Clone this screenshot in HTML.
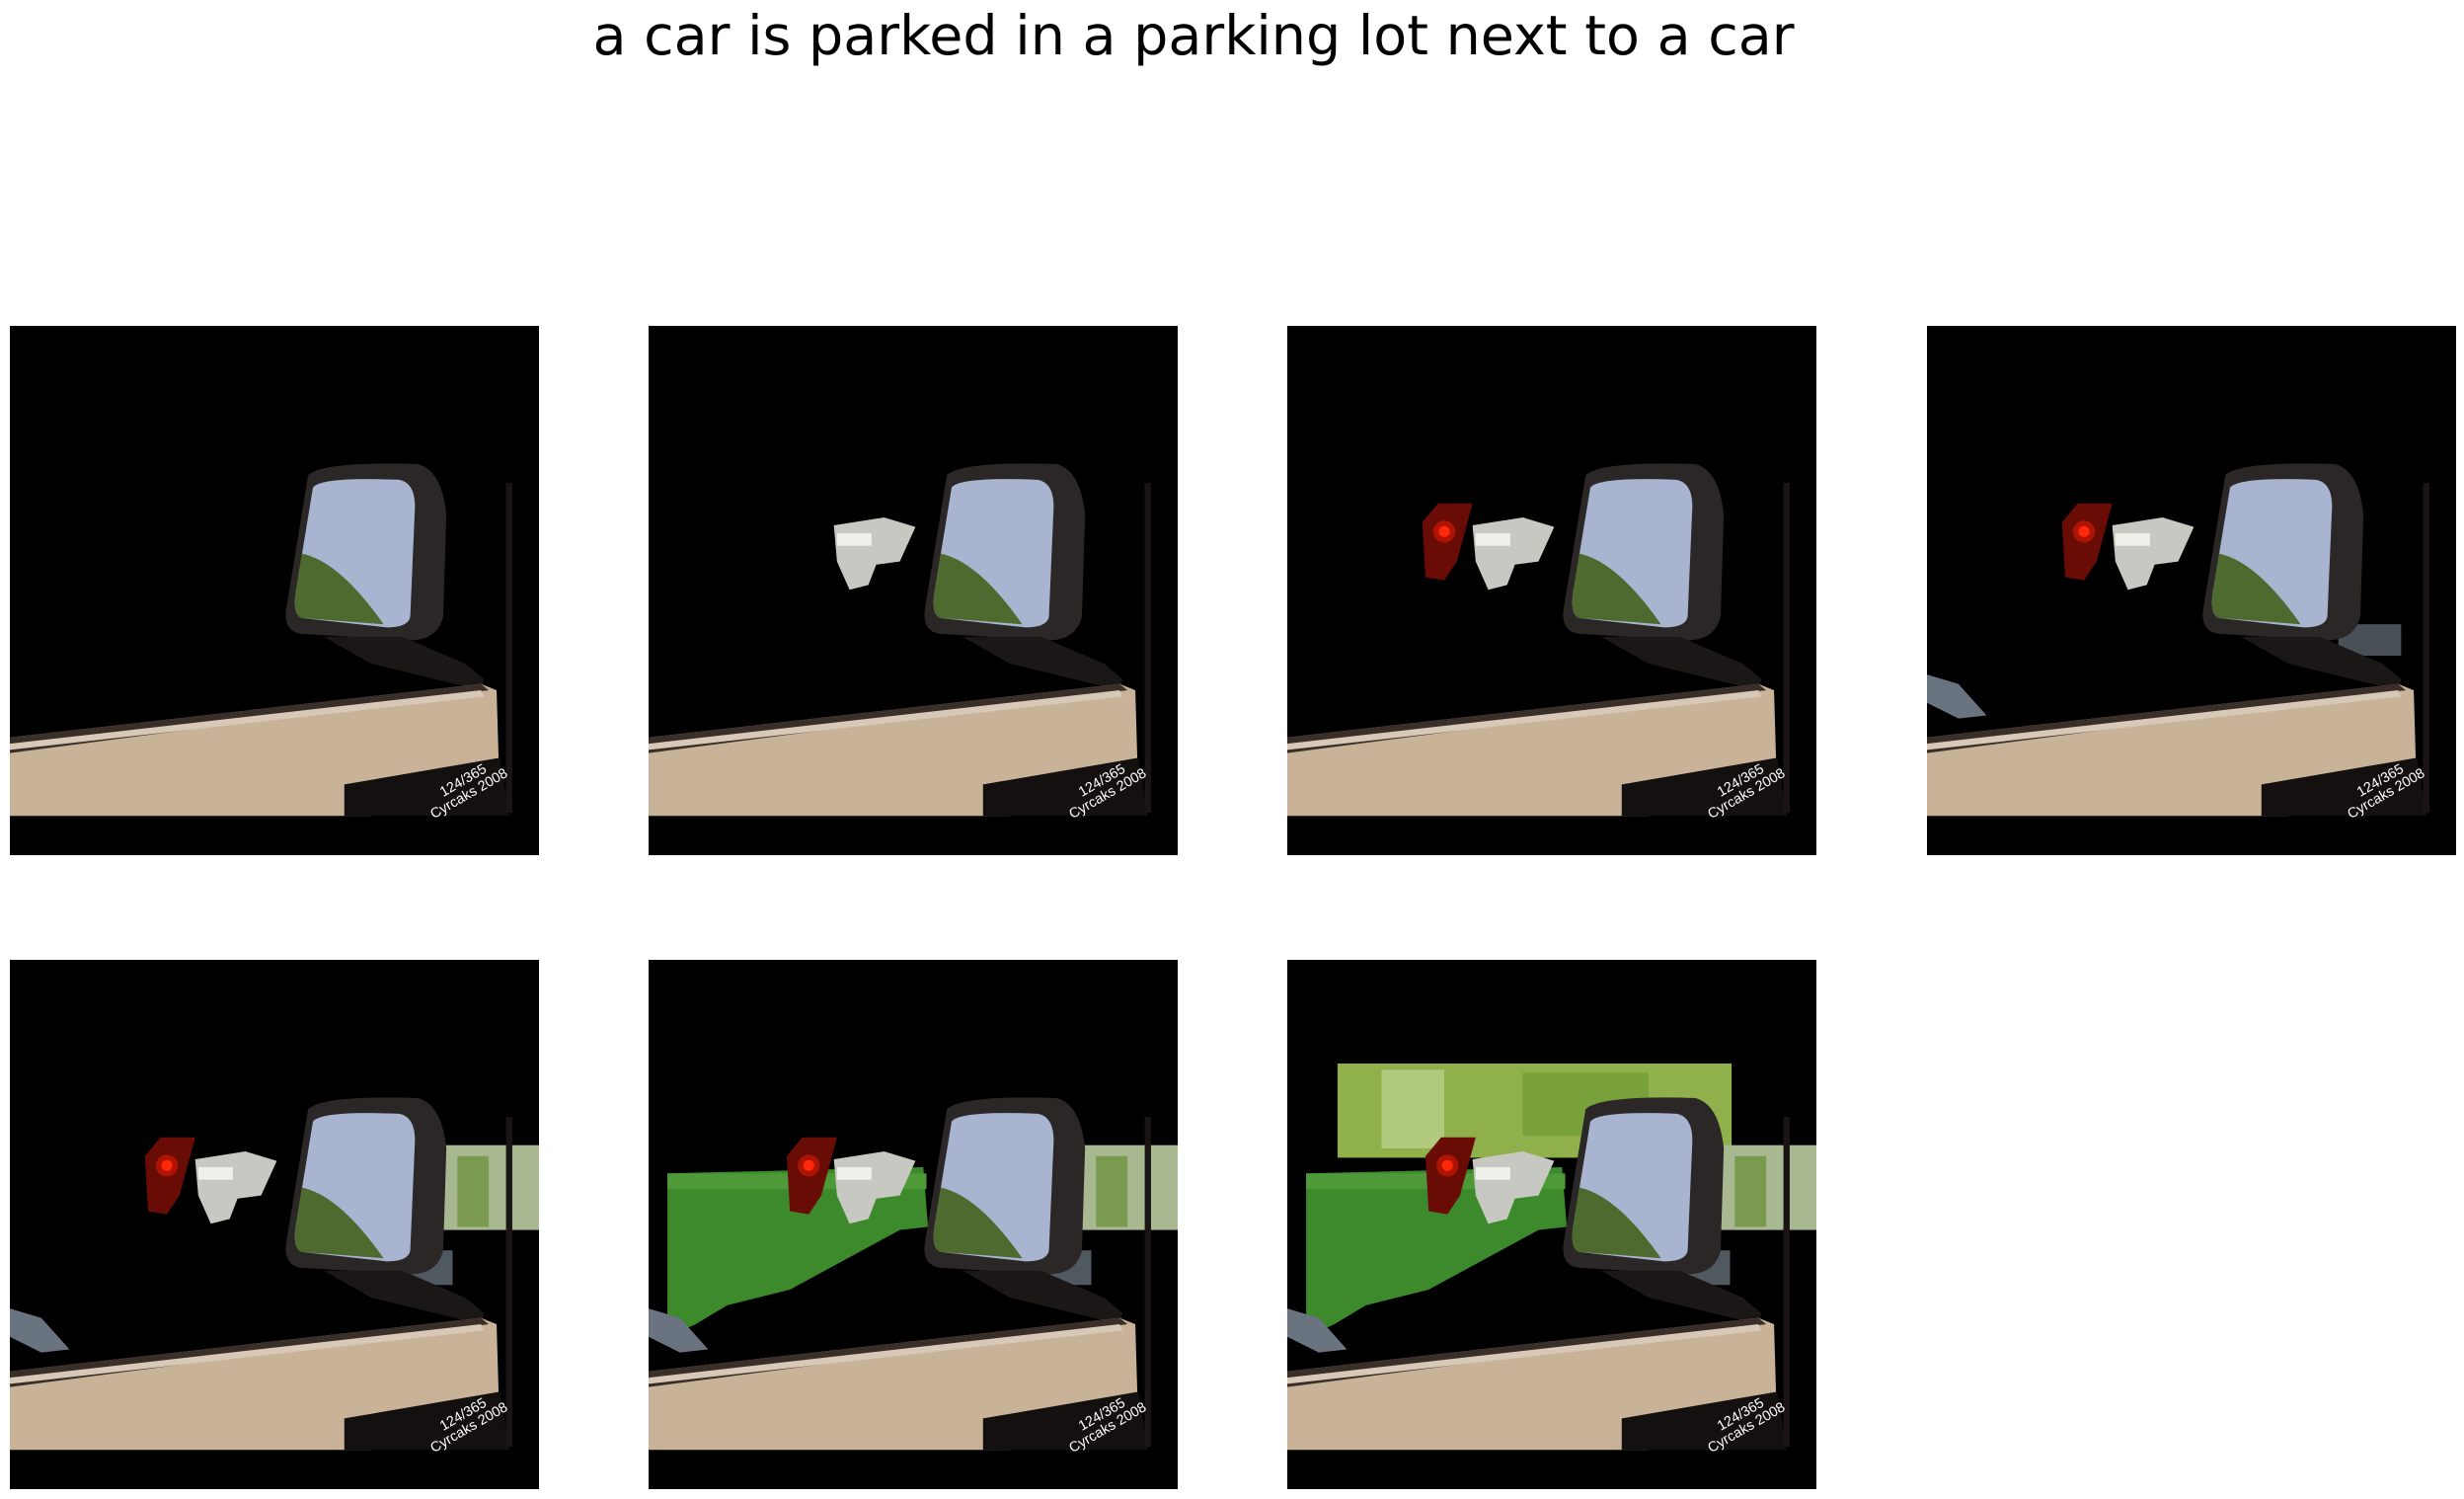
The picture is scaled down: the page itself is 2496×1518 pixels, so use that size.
<!DOCTYPE html>
<html><head><meta charset="utf-8"><style>
html,body{margin:0;padding:0;background:#fff;width:2496px;height:1518px;overflow:hidden;position:relative}
#title{position:absolute;left:0;width:2418px;top:4px;text-align:center;font-family:"DejaVu Sans","Liberation Sans",sans-serif;font-size:55.5px;color:#000;white-space:nowrap}
.panel{position:absolute;width:536px;height:536px}
</style></head><body>
<div id="title">a car is parked in a parking lot next to a car</div>
<div id="panels"></div>
<script>
// panel layout (grid of reveal steps)
const panelCols = [10, 657, 1304, 1952];
const panelRows = [330, 972];
const stages = [1, 2, 3, 4, 5, 6, 7];

function shapes(s){
  let g = '';
  g += '<rect x="0" y="0" width="337" height="337" fill="#000"/>';
  if (s >= 7) {
    g += '<rect x="32" y="66" width="251" height="60" fill="#8fb04a"/>';
    g += '<rect x="60" y="70" width="40" height="50" fill="#c8dca0" opacity="0.6"/>';
    g += '<rect x="150" y="72" width="80" height="40" fill="#6e9a34" opacity="0.7"/>';
  }
  if (s >= 6) {
    g += '<polygon points="12,136 175,132 178,170 160,172 90,210 50,220 30,232 12,240" fill="#3d8a2c"/>';
    g += '<rect x="12" y="136" width="165" height="10" fill="#4f9a38"/>';
  }
  if (s >= 4) {
    g += '<polygon points="0,222 20,228 38,248 20,250 0,240" fill="#6a7480"/>';
  }
  if (s >= 5) {
    g += '<rect x="272" y="118" width="65" height="54" fill="#a8b890"/>';
    g += '<rect x="285" y="125" width="20" height="45" fill="#7a9a50"/>';
    g += '<rect x="252" y="185" width="30" height="22" fill="#505860"/>';
  } else if (s >= 4) {
    g += '<rect x="262" y="190" width="40" height="20" fill="#4a5058"/>';
  }
  if (s >= 3) {
    const lx = s >= 6 ? 88 : 86;
    g += '<polygon points="'+(lx)+','+125+' '+(lx+10)+',113 '+(lx+32)+',113 '+(lx+22)+',150 '+(lx+14)+',162 '+(lx+2)+',160" fill="#6a0c06"/>';
    g += '<circle cx="'+(lx+14)+'" cy="131" r="3.5" fill="#ff3010"/>';
    g += '<circle cx="'+(lx+14)+'" cy="131" r="7" fill="#ff2000" opacity="0.45"/>';
  }
  if (s >= 2) {
    g += '<polygon points="118,127 150,122 170,128 160,150 145,152 140,165 128,168 120,150" fill="#c8c8c2"/>';
    g += '<rect x="120" y="132" width="22" height="8" fill="#f0f0ea"/>';
  }
  // mirror
  g += '<path d="M190,95 Q200,86 260,88 Q275,92 278,120 L276,185 Q272,202 250,200 L185,196 Q174,194 176,180 Z" fill="#2a2726"/>';
  g += '<path d="M193,103 Q198,96 248,98 Q258,100 258,115 L255,185 Q254,192 240,192 L186,186 Q180,184 182,170 Z" fill="#a9b4d0"/>';
  g += '<path d="M186,145 Q210,150 238,190 L186,186 Q180,184 182,170 Z" fill="#4f6a2e"/>';
  g += '<polygon points="200,198 250,198 290,215 302,225 300,232 230,215" fill="#1a1716"/>';
  // door
  g += '<polygon points="0,262 300,228 310,232 312,300 230,305 230,312 0,312" fill="#c8b298"/>';
  g += '<polygon points="0,262 300,228 305,232 0,272" fill="#3a2e28"/>';
  g += '<polygon points="0,266 300,232 302,236 0,270" fill="#d8c8b8"/>';
  g += '<polygon points="213,292 312,275 318,312 213,312" fill="#151010"/>';
  g += '<rect x="316" y="100" width="4" height="210" fill="#1a1414"/>';
  g += '<text x="276" y="300" fill="#fff" font-family="Liberation Sans, sans-serif" font-size="9" transform="rotate(-30 276 300)">124/365</text>';
  g += '<text x="270" y="314" fill="#fff" font-family="Liberation Sans, sans-serif" font-size="9" transform="rotate(-30 270 314)">Cyrcaks 2008</text>';
  return g;
}

const host = document.getElementById('panels');
stages.forEach(function(s, i){
  const d = document.createElement('div');
  d.className = 'panel';
  d.style.left = panelCols[i % 4] + 'px';
  d.style.top = panelRows[Math.floor(i / 4)] + 'px';
  
  
  d.innerHTML = '<svg width="536" height="536" viewBox="0 0 337 337" preserveAspectRatio="none">' + shapes(s) + '</svg>';
  host.appendChild(d);
});
</script>
</body></html>
